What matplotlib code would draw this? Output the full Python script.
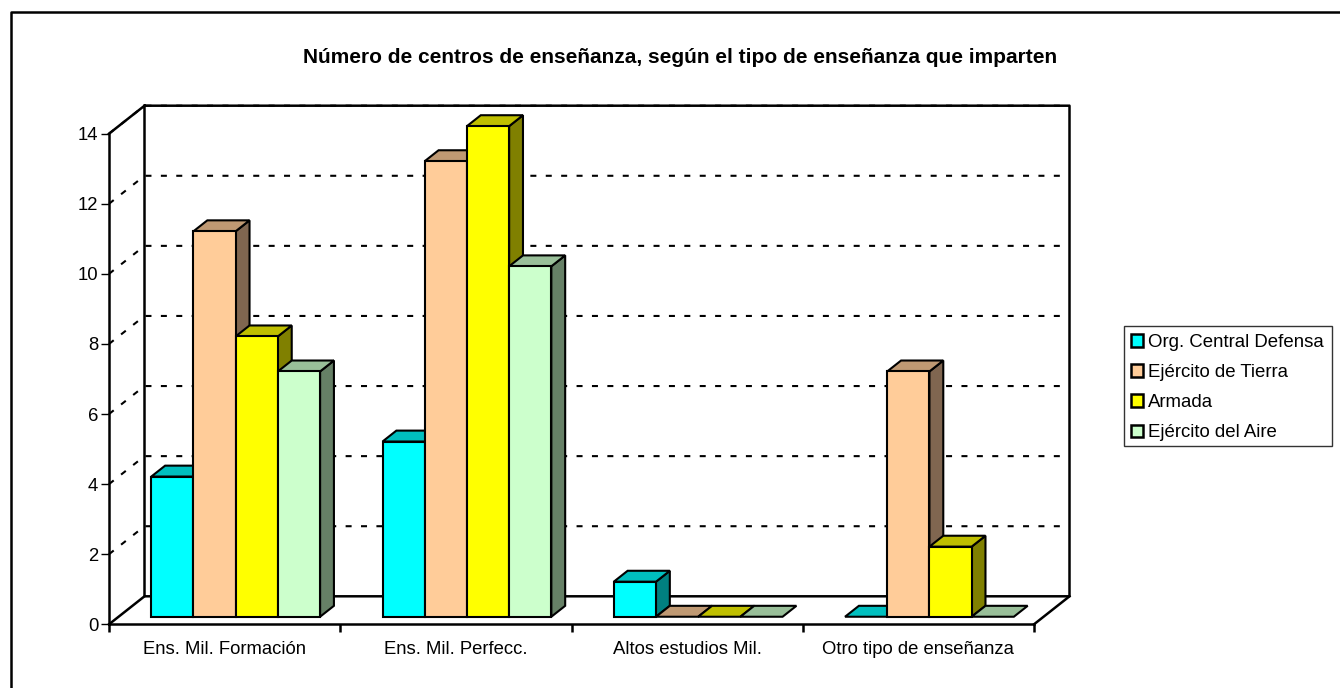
import matplotlib
matplotlib.use("Agg")
import matplotlib.pyplot as plt
from matplotlib.lines import Line2D
from matplotlib.patches import Patch, Polygon, Rectangle

plt.rcParams['font.family'] = ['Liberation Sans', 'DejaVu Sans']

W, H = 1340, 688
title = "Número de centros de enseñanza, según el tipo de enseñanza que imparten"
categories = ["Ens. Mil. Formación", "Ens. Mil. Perfecc.", "Altos estudios Mil.", "Otro tipo de enseñanza"]
series_names = ["Org. Central Defensa", "Ejército de Tierra", "Armada", "Ejército del Aire"]
org_central = [4, 5, 1, 0]
ejercito_tierra = [11, 13, 0, 7]
armada = [8, 14, 0, 2]
ejercito_aire = [7, 10, 0, 0]
series_values = [org_central, ejercito_tierra, armada, ejercito_aire]
y_ticks = [0, 2, 4, 6, 8, 10, 12, 14]

front_colors = ["#00FFFF", "#FFCC99", "#FFFF00", "#CCFFCC"]
top_colors = ["#00BFBF", "#BF9973", "#BFBF00", "#99BF99"]
side_colors = ["#008080", "#806650", "#808000", "#668066"]

# plot frame in pixels
PX_L, PX_R, PX_T, PX_B = 109.0, 1034.0, 133.7, 624.3
LW = 1.8

fig = plt.figure(figsize=(W / 100, H / 100), dpi=100, facecolor="white")
ax = fig.add_axes([PX_L / W, 1 - PX_B / H, (PX_R - PX_L) / W, (PX_B - PX_T) / H])
ax.set_xlim(0, len(categories))
ax.set_ylim(0, 14)
ax.patch.set_visible(False)

# depth axis: one full depth step in data units
px_per_x = (PX_R - PX_L) / len(categories)
px_per_y = (PX_B - PX_T) / 14
DX = 35.5 / px_per_x
DY = 28.0 / px_per_y


def proj(x, y, d=0.0):
    return (x + d * DX, y + d * DY)


def line(pts, **kw):
    xs, ys = zip(*pts)
    kw.setdefault("color", "black")
    kw.setdefault("lw", LW)
    ax.add_line(Line2D(xs, ys, clip_on=False, solid_capstyle="projecting", **kw))


# gridlines on side and back walls
dots = dict(linestyle=(0, (2.88, 4.51)), lw=1.5, dash_capstyle="butt", zorder=1)
for v in y_ticks[1:]:
    line([proj(0, v), proj(0, v, 1), proj(len(categories), v, 1)], **dots)

# walls and floor
nc = len(categories)
wall = dict(zorder=1.5)
line([proj(0, 14), proj(0, 14, 1), proj(nc, 14, 1), proj(nc, 0, 1), proj(0, 0, 1), proj(0, 14, 1)], **wall)
line([proj(0, 0), proj(0, 0, 1)], **wall)
line([proj(nc, 0), proj(nc, 0, 1)], **wall)

# 3-D bars, painted left to right
BAR_W = 42.2 / px_per_x
INSET = 32.7 / px_per_x
D0, D1 = 0.27, 0.66
edge = dict(edgecolor="black", linewidth=1.5, joinstyle="miter", clip_on=False, zorder=3)
for c in range(nc):
    for s, vals in enumerate(series_values):
        x0 = c + INSET + s * BAR_W
        x1 = x0 + BAR_W
        v = vals[c]
        if v > 0:
            ax.add_patch(Polygon([proj(x1, 0, D0), proj(x1, 0, D1), proj(x1, v, D1), proj(x1, v, D0)],
                                 facecolor=side_colors[s], **edge))
        ax.add_patch(Polygon([proj(x0, v, D0), proj(x1, v, D0), proj(x1, v, D1), proj(x0, v, D1)],
                             facecolor=top_colors[s], **edge))
        if v > 0:
            ax.add_patch(Polygon([proj(x0, 0, D0), proj(x1, 0, D0), proj(x1, v, D0), proj(x0, v, D0)],
                                 facecolor=front_colors[s], **edge))

# axes
for sp in ("top", "right"):
    ax.spines[sp].set_visible(False)
for sp in ("left", "bottom"):
    ax.spines[sp].set_linewidth(LW)
ax.set_yticks(y_ticks)
ax.set_xticks(range(nc + 1))
ax.set_xticklabels([])
ax.set_xticks([c + 0.5 for c in range(nc)], minor=True)
ax.set_xticklabels(categories, minor=True, fontsize=13.3)
ax.tick_params(axis="x", which="major", length=5.8, width=LW)
ax.tick_params(axis="x", which="minor", length=0, pad=12.2)
ax.tick_params(axis="y", length=5.8, width=1.0, pad=2.0, labelsize=13.3)

fig.text(680.5 / W, 1 - 57.8 / H, title, ha="center", va="center", fontsize=15.0, fontweight="bold")

# legend frame and entries
fig.add_artist(Rectangle((1124.3 / W, 1 - 446 / H), 208 / W, 120.3 / H, transform=fig.transFigure,
                         facecolor="white", edgecolor="#333333", linewidth=1.0))
handles = [Patch(facecolor=f, edgecolor="black", linewidth=LW) for f in front_colors]
leg = fig.legend(handles, series_names, loc="lower left",
                 bbox_to_anchor=(1123.3 / W, 1 - 448.7 / H), frameon=False,
                 borderaxespad=0, fontsize=13.4,
                 handlelength=0.65, handleheight=0.65, handletextpad=0.27, labelspacing=0.705,
                 borderpad=0.40)

# outer chart frame
fig.add_artist(Line2D([11 / W, 11 / W, 1], [0, 1 - 12 / H, 1 - 12 / H], color="black", lw=LW))

fig.savefig("out.png", dpi=100)
